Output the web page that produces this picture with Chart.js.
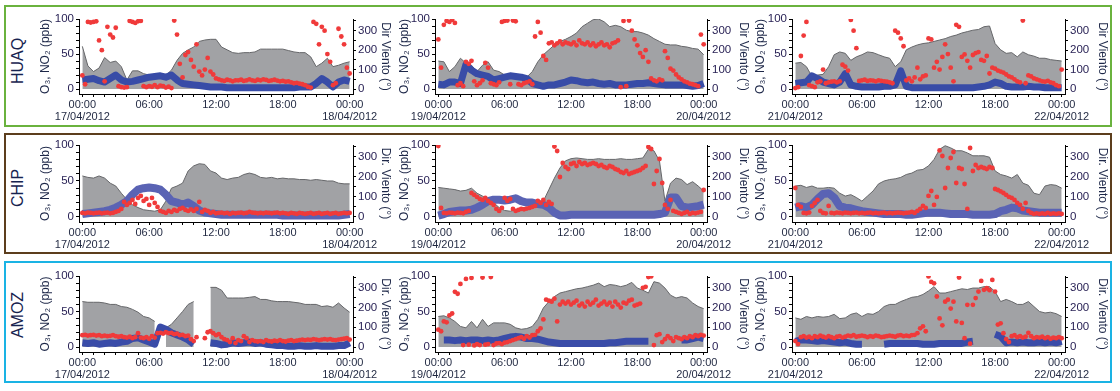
<!DOCTYPE html>
<html>
<head>
<meta charset="utf-8">
<script src="https://cdn.jsdelivr.net/npm/chart.js@4.4.1/dist/chart.umd.min.js"></script>
<style>
  body { margin: 0; background: #fff; width: 1120px; height: 391px; position: relative; overflow: hidden;
         font-family: "Liberation Sans", Arial, sans-serif; }
  .frame { position: absolute; border: 2px solid; box-sizing: border-box; }
  .station { position: absolute; font-size: 16px; color: #17234f; white-space: nowrap;
             transform: translate(-50%, -50%) rotate(-90deg); }
  canvas { position: absolute; }
</style>
</head>
<body>
<script>
// ---- data: O3 and NO2 every 30 min (00:00 .. 24:00), wind direction every 15 min ----
const stations = ["HUAQ", "CHIP", "AMOZ"];
const dayLabels = [["17/04/2012", "18/04/2012"], ["19/04/2012", "20/04/2012"], ["21/04/2012", "22/04/2012"]];
const hourTicks = [0, 6, 12, 18, 24];
const hourText = ["00:00", "06:00", "12:00", "18:00", "00:00"];
const leftLabels = [0, 50, 100];
const rightLabels = [0, 100, 200, 300];
const rightTitles = ["Dir Viento (°)", "Dir. Viento (°)", "Dir. Viento (°)"];

const huaq17O3 = [61, 33, 25, 30, 45, 38, 40, 32, 13, 26, 26, 22, 20, 19, 18, 20,
  27, 41, 51, 56, 60, 68, 70, 71, 71, 60, 56, 52, 51, 52, 52, 53,
  57, 57, 57, 57, 57, 55, 53, 52, 52, 46, 32, 37, 44, 32, 34, 37, 39];
const huaq17NO2 = [13, 14, 15, 12, 10, 15, 20, 13, 10, 11, 13, 15, 17, 18, 19, 17,
  20, 13, 8, 7, 6, 5, 4, 3, 3, 3, 2, 2, 2, 2, 2, 2,
  2, 2, 2, 2, 2, 2, 2, 3, 3, 3, 8, 15, 10, 3, 10, 13, 11];
const huaq17Dir = [70, 25, 345, 342, 345, 348, 250, 200,
  40, 320, 280, 265, 315, 15, 10, 8,
  10, 350, 345, 340, 348, 350, 15, 10,
  15, 12, 20, 10, 18, 15, 8, 12,
  5, 352, 280, 130, 60, 175, 190, 150,
  115, 230, 90, 70, 100, 160, 90, 75,
  55, 50, 45, 42, 48, 45, 40, 45,
  45, 48, 42, 45, 50, 45, 42, 48,
  45, 50, 47, 42, 45, 48, 44, 40,
  42, 38, 40, 35, 30, 32, 28, 25,
  20, 12, 8, 345, 335, 230, 320, 300,
  180, 140, 20, 30, 310, 270, 230, 110,
  80];

const huaq19O3 = [40, 39, 25, 32, 44, 37, 34, 25, 34, 39, 27, 25, 20, 20, 18, 18,
  17, 25, 39, 49, 56, 63, 68, 71, 75, 80, 89, 94, 99, 100, 96, 89,
  91, 89, 84, 82, 82, 80, 77, 72, 68, 64, 63, 63, 61, 60, 58, 57, 49];
const huaq19NO2 = [7, 6, 10, 10, 8, 35, 27, 22, 20, 18, 13, 15, 17, 19, 18, 17,
  15, 8, 6, 4, 6, 6, 8, 10, 13, 12, 10, 9, 10, 8, 7, 8,
  6, 6, 6, 7, 8, 8, 9, 8, 7, 6, 6, 6, 6, 5, 4, 5, 8];
const huaq19Dir = [255, 110, 330, 350, 345, 355, 340, 20,
  30, 15, 140, 130, 145, 40, 20, 30,
  45, 135, 110, 30, 25, 20, 35, 345,
  350, 352, 25, 352, 348, 25, 20, 30,
  35, 40, 25, 270, 345, 290, 170, 150,
  235, 240, 225, 235, 245, 230, 240, 235,
  230, 240, 225, 250, 235, 230, 240, 225,
  235, 220, 230, 240, 225, 230, 215, 235,
  240, 250, 10, 350, 15, 352, 300, 255,
  225, 185, 165, 200, 140, 55, 45, 40,
  50, 45, 195, 160, 105, 95, 75, 60,
  50, 40, 35, 28, 25, 20, 15, 280,
  230];

const huaq21O3 = [37, 38, 32, 18, 20, 21, 32, 49, 53, 51, 41, 46, 49, 53, 52, 49,
  46, 44, 32, 39, 56, 60, 63, 65, 66, 68, 70, 72, 75, 77, 80, 82,
  84, 85, 89, 90, 65, 56, 51, 52, 46, 53, 49, 47, 44, 44, 42, 41, 40];
const huaq21NO2 = [8, 9, 10, 19, 15, 10, 8, 6, 10, 22, 6, 4, 3, 3, 3, 3,
  4, 4, 6, 26, 4, 2, 2, 2, 2, 2, 2, 2, 2, 2, 2, 2,
  2, 3, 4, 6, 10, 8, 4, 3, 3, 3, 4, 3, 3, 2, 2, 2, 2];
const huaq21Dir = [5, 10, 170, 275, 345, 20, 15, 10,
  35, 40, 100, 30, 35, 38, 40, 35,
  40, 125, 115, 95, 355, 300, 210, 42,
  45, 48, 42, 45, 44, 40, 45, 42,
  40, 38, 35, 30, 300, 290, 260, 220,
  45, 55, 40, 60, 110, 50, 65, 70,
  260, 255, 110, 140, 100, 165, 230, 180,
  110, 40, 330, 320, 165, 178, 145, 110,
  175, 185, 190, 150, 145, 170, 80, 110,
  105, 95, 90, 85, 75, 65, 60, 50,
  40, 35, 352, 30, 70, 65, 55, 50,
  45, 40, 38, 42, 35, 30, 20, 15,
  100];

const chip17O3 = [57, 55, 54, 57, 54, 47, 43, 33, 24, 17, 13, 10, 9, 8, 10, 22,
  40, 43, 47, 64, 71, 74, 73, 64, 61, 54, 52, 54, 55, 59, 61, 59,
  55, 54, 55, 53, 54, 53, 53, 52, 52, 51, 52, 51, 50, 50, 47, 46, 46];
const chip17NO2 = [4, 5, 6, 7, 8, 10, 13, 17, 22, 31, 38, 40, 41, 40, 38, 31,
  22, 20, 17, 20, 15, 9, 6, 5, 4, 3, 3, 3, 3, 3, 3, 3,
  3, 3, 3, 3, 2, 2, 2, 2, 2, 2, 2, 2, 2, 2, 2, 3, 4];
const chip17Dir = [20, 18, 22, 20, 18, 20, 22, 18,
  20, 22, 18, 20, 25, 30, 40, 75,
  60, 70, 85, 65, 95, 105, 80, 90,
  60, 95, 70, 50, 30, 25, 20, 30,
  25, 35, 30, 40, 45, 35, 30, 38,
  30, 40, 75, 25, 35, 30, 20, 25,
  18, 20, 22, 18, 20, 15, 20, 18,
  20, 22, 18, 20, 25, 22, 20, 18,
  20, 18, 22, 20, 18, 20, 22, 18,
  20, 18, 15, 20, 18, 15, 20, 18,
  15, 18, 20, 15, 18, 20, 15, 18,
  20, 15, 18, 20, 15, 18, 20, 18,
  20];

const chip19O3 = [41, 40, 39, 38, 36, 37, 40, 33, 29, 24, 20, 13, 9, 8, 10, 13,
  13, 15, 17, 22, 38, 54, 68, 78, 81, 82, 81, 80, 80, 81, 80, 80,
  80, 81, 80, 80, 81, 82, 94, 92, 78, 22, 47, 54, 52, 45, 49, 43, 36];
const chip19NO2 = [2, 4, 7, 8, 9, 9, 10, 13, 17, 22, 24, 24, 23, 24, 26, 22,
  20, 20, 18, 17, 13, 6, 2, 2, 3, 3, 3, 3, 3, 3, 3, 3,
  3, 3, 3, 3, 3, 3, 3, 3, 4, 6, 27, 27, 15, 13, 14, 15, 17];
const chip19Dir = [355, 45, 20, 18, 22, 20, 18, 22,
  20, 18, 25, 30, 120, 110, 100, 90,
  85, 95, 80, 70, 60, 40, 30, 45,
  95, 80, 90, 40, 30, 35, 40, 38,
  42, 45, 50, 55, 80, 70, 85, 60,
  75, 65, 352, 330, 200, 270, 250, 240,
  265, 270, 255, 275, 265, 270, 260, 265,
  270, 265, 255, 260, 250, 245, 255, 250,
  240, 235, 225, 220, 230, 215, 220, 225,
  230, 235, 245, 255, 350, 340, 165, 230,
  290, 170, 60, 40, 85, 30, 25, 20,
  15, 20, 25, 15, 20, 18, 22, 25,
  135];

const chip21O3 = [43, 44, 41, 43, 40, 40, 41, 40, 33, 29, 31, 27, 22, 29, 36, 46,
  50, 52, 53, 55, 59, 61, 65, 66, 71, 80, 94, 99, 96, 92, 92, 89,
  85, 85, 85, 83, 64, 59, 57, 54, 59, 47, 44, 33, 31, 43, 45, 44, 40];
const chip21NO2 = [13, 15, 13, 17, 25, 32, 33, 27, 15, 13, 12, 10, 8, 7, 6, 5,
  4, 4, 4, 4, 3, 3, 4, 5, 6, 6, 6, 5, 4, 4, 4, 4,
  3, 3, 3, 3, 4, 8, 10, 13, 12, 9, 8, 7, 6, 6, 6, 6, 6];
const chip21Dir = [145, 60, 50, 20, 18, 22, 55, 70,
  85, 30, 20, 18, 55, 20, 18, 22,
  20, 18, 22, 20, 18, 20, 22, 18,
  20, 18, 20, 22, 18, 20, 18, 20,
  22, 18, 20, 18, 20, 22, 20, 18,
  20, 22, 25, 20, 30, 40, 55, 45,
  105, 130, 60, 100, 333, 305, 145, 245,
  295, 325, 170, 245, 240, 165, 40, 345,
  230, 260, 245, 250, 245, 240, 250, 245,
  140, 135, 128, 120, 110, 100, 95, 85,
  70, 60, 40, 70, 30, 20, 15, 18,
  15, 18, 15, 20, 15, 18, 15, 18,
  15];

const amoz17O3 = [64, 63, 63, 63, 62, 60, 60, 57, 56, 53, 49, 43, 41, 36, null, 27,
  32, 41, 50, 60, 64, null, null, 84, 84, 80, 69, 69, 69, 69, 70, 71,
  67, 67, 65, 64, 64, 64, 63, 62, 60, 60, 60, 57, 58, 56, 62, 55, 49];
const amoz17NO2 = [6, 5, 6, 4, 5, 6, 5, 7, 8, 12, 13, 10, 7, 4, 28, 25,
  20, 17, 14, 10, 4, null, null, 6, 5, 3, 4, 6, 5, 6, 7, 5,
  6, 4, 3, 2, 2, 1, 1, 2, 1, 1, 2, 1, 1, 1, 2, 2, 6];
const amoz17Dir = [60, 62, 58, 60, 62, 58, 60, 55,
  58, 55, 57, 60, 55, 52, 55, 50,
  48, 52, 45, 50, 70, 48, 45, 50,
  42, 55, 48, 70, 72, 68, 75, 70,
  72, 65, 68, 60, 62, 55, 58, 40,
  30, 50, null, null, 45, 75, 80, 70,
  60, 65, 50, 40, 35, 25, 45, 20,
  35, 30, 55, 45, 25, 35, 30, 28,
  30, 25, 35, 30, 28, 32, 30, 35,
  30, 28, 32, 35, 30, 32, 35, 38,
  35, 38, 36, 40, 38, 35, 38, 40,
  38, 40, 36, 35, 38, 40, 42, 45,
  38];

const amoz19O3 = [43, 44, 41, 36, 29, 27, 36, 27, 39, 29, 34, 34, 34, 32, 27, 25,
  26, 29, 39, 55, 64, 71, 76, 78, 80, 82, 83, 85, 87, 90, 85, 88,
  87, 85, 87, 91, 83, 80, 76, 92, 90, 83, 73, 69, 71, 69, 62, 57, 54];
const amoz19NO2 = [null, 10, 10, 9, 10, 9, 10, 10, 9, 10, 9, 10, 12, 14, 15, 14,
  12, 12, 11, 9, 7, 6, 5, 5, 5, 5, 5, 5, 5, 5, 5, 6,
  6, 7, 8, 8, 8, 8, 8, null, null, null, null, null, 10, 10, 12, 14, 12];
const amoz19Dir = [88, 80, 130, 125, 160, 170, 280, 270,
  320, 10, 345, 12, 350, 8, 15, 10,
  352, 12, 15, 355, 10, 18, 20, 15,
  22, 25, 30, 35, 40, 45, 50, 42,
  55, 48, 60, 62, 80, 95, 140, 240,
  235, 230, 245, 130, 215, 230, 220, 230,
  215, 225, 235, 210, 220, 205, 230, 215,
  225, 240, 210, 220, 230, 215, 225, 205,
  230, 215, 200, 225, 220, 235, 240, 210,
  215, 220, 300, 305, 355, 358, 10, 60,
  65, 25, 40, 55, 45, 30, 50, 45,
  40, 50, 45, 55, 50, 60, 55, 62,
  58];

const amoz21O3 = [41, 39, 43, 41, 43, 42, 43, 46, 40, 41, 46, 48, 43, 47, 46, 50,
  57, 60, 60, 64, 67, 70, 71, 74, 79, 85, 76, 76, 78, 80, 82, 81,
  83, 83, 85, 85, 78, 64, 67, 64, 60, 60, 64, 57, 50, 48, 49, 47, 43];
const amoz21NO2 = [8, 10, 10, 9, 8, 9, 8, 7, 6, 7, 5, 4, 4, null, null, null,
  4, 5, 5, 5, 5, 5, 5, 4, 4, 4, 5, 5, 5, 5, 5, 7,
  8, null, null, null, 18, 15, 6, 7, 6, 7, 6, 6, 7, 6, 7, 6, 8];
const amoz21Dir = [30, 15, 50, 55, 48, 52, 45, 55,
  50, 58, 52, 48, 55, 50, 45, 52,
  55, 48, 52, 58, 55, 60, 52, 55,
  58, 55, 50, 55, 52, 58, 55, 50,
  52, 55, 58, 55, 52, 58, 60, 55,
  58, 55, 60, 62, 70, 95, 105, 80,
  358, 330, 323, 256, 145, 110, 230, 240,
  195, 230, 130, 352, 122, 45, 214, 17,
  214, 248, 281, 335, 290, 298, 288, 340,
  281, 114, 120, 70, 40, 25, 55, 60,
  50, 55, 48, 52, 72, 55, 45, 50,
  48, 52, 45, 50, 42, 48, 45, 50,
  45];

const panelData = [
  [huaq17O3, huaq17NO2, huaq17Dir], [huaq19O3, huaq19NO2, huaq19Dir], [huaq21O3, huaq21NO2, huaq21Dir],
  [chip17O3, chip17NO2, chip17Dir], [chip19O3, chip19NO2, chip19Dir], [chip21O3, chip21NO2, chip21Dir],
  [amoz17O3, amoz17NO2, amoz17Dir], [amoz19O3, amoz19NO2, amoz19Dir], [amoz21O3, amoz21NO2, amoz21Dir],
];

// ---- layout / style ----
const FONT = '"Liberation Sans", Arial, sans-serif';
const frameColors = ["#6ab23e", "#5c3e1d", "#1ab3e4"];
const frameBoxes = [[4, 5, 1108, 122], [4, 133, 1108, 121], [4, 261, 1108, 122]];
const stationCenters = [61, 188, 315];
const blueColors = ["#384ca7", "#5a63b4", "#3a4ca8"];
const blueWidths = [7, 8, 7];
const rowPlot = [[19, 94], [145, 222], [276, 352]];
const colPlot = [[79, 353], [435, 707], [792, 1065]];
const leftTitleDist = [33, 30, 31];
const rightTitleDist = [32, 36, 37];
const LEFT_W = 56, RIGHT_W = 46, PAD_TOP = 10, X_H = 34;

Chart.defaults.font.family = FONT;

function series(values, step) {
  return values.map((v, i) => ({ x: i * step, y: v }));
}

frameBoxes.forEach((b, r) => {
  const d = document.createElement("div");
  d.className = "frame";
  Object.assign(d.style, { left: b[0] + "px", top: b[1] + "px", width: b[2] + "px", height: b[3] + "px", borderColor: frameColors[r] });
  document.body.appendChild(d);

  const s = document.createElement("div");
  s.className = "station";
  s.textContent = stations[r];
  Object.assign(s.style, { left: "18px", top: stationCenters[r] + "px" });
  document.body.appendChild(s);
});

panelData.forEach((p, k) => {
  const r = Math.floor(k / 3), c = k % 3;
  const [o3, no2, dir] = p;
  const [pTop, pBottom] = rowPlot[r];
  const [pLeft, pRight] = colPlot[c];

  const canvas = document.createElement("canvas");
  const w = LEFT_W + (pRight - pLeft) + RIGHT_W;
  const h = PAD_TOP + (pBottom - pTop) + X_H;
  canvas.width = w;
  canvas.height = h;
  Object.assign(canvas.style, { left: (pLeft - LEFT_W) + "px", top: (pTop - PAD_TOP) + "px", width: w + "px", height: h + "px" });
  document.body.appendChild(canvas);

  const tickColor = "#000";
  new Chart(canvas, {
    type: "line",
    data: {
      datasets: [
        {
          data: series(dir, 0.25), yAxisID: "y2", showLine: false, order: 0,
          pointRadius: 2.4, pointBorderWidth: 0, pointBackgroundColor: "#f03a3a", pointBorderColor: "#f03a3a",
        },
        {
          data: series(no2, 0.5), yAxisID: "y", order: 1, pointRadius: 0,
          borderColor: blueColors[r], borderWidth: blueWidths[r], borderJoinStyle: "round", borderCapStyle: "butt",
        },
        {
          data: series(o3, 0.5), yAxisID: "y", order: 2, pointRadius: 0, fill: "origin",
          borderColor: "#66676a", borderWidth: 1, backgroundColor: "#a1a2a5",
        },
      ],
    },
    options: {
      responsive: false,
      animation: false,
      events: [],
      layout: { autoPadding: false, padding: { top: PAD_TOP, left: 0, right: 0, bottom: 0 } },
      plugins: { legend: { display: false }, tooltip: { enabled: false } },
      scales: {
        x: {
          type: "linear", position: "bottom", min: -0.3, max: 24.3,
          afterBuildTicks: (s) => { s.ticks = Array.from({ length: 25 }, (_, i) => ({ value: i })); },
          afterFit: (s) => { s.height = X_H; },
          grid: { drawOnChartArea: false, drawTicks: true, tickLength: 3, tickColor: tickColor },
          border: { color: "#000", width: 1 },
          ticks: {
            autoSkip: false, maxRotation: 0, minRotation: 0, padding: 2, color: "#1f2740",
            font: { size: 11, lineHeight: 1.07 },
            callback: (v) => {
              const i = hourTicks.indexOf(v);
              if (i < 0) return "";
              if (i === 0) return [hourText[i], dayLabels[c][0]];
              if (i === hourTicks.length - 1) return [hourText[i], dayLabels[c][1]];
              return hourText[i];
            },
          },
        },
        y: {
          position: "left", min: -7, max: 100,
          afterBuildTicks: (s) => { s.ticks = Array.from({ length: 11 }, (_, i) => ({ value: i * 10 })); },
          afterFit: (s) => { s.width = LEFT_W; },
          grid: { drawOnChartArea: false, drawTicks: true, tickLength: 3, tickColor: tickColor },
          border: { color: "#000", width: 1 },
          ticks: {
            autoSkip: false, padding: 2, color: "#2a2356", font: { size: 11.5 },
            callback: (v) => (leftLabels.includes(v) ? String(v) : ""),
          },
          title: {
            display: true, text: "O₃, NO₂ (ppb)", color: "#1d2748", font: { size: 12 },
            padding: { top: LEFT_W - leftTitleDist[c] - 7.2, bottom: 0 },
          },
        },
        y2: {
          position: "right", min: -25.2, max: 360,
          afterBuildTicks: (s) => { s.ticks = Array.from({ length: 8 }, (_, i) => ({ value: i * 50 })); },
          afterFit: (s) => { s.width = RIGHT_W; },
          grid: { drawOnChartArea: false, drawTicks: true, tickLength: 3, tickColor: tickColor },
          border: { color: "#000", width: 1 },
          ticks: {
            autoSkip: false, padding: 2, color: "#2a2356", font: { size: 11.5 },
            callback: (v) => (rightLabels.includes(v) ? String(v) : ""),
          },
          title: {
            display: true, text: rightTitles[r], color: "#1d2748", font: { size: 12 },
            padding: { top: RIGHT_W - rightTitleDist[c] - 7.2, bottom: 0 },
          },
        },
      },
    },
  });
});
</script>
</body>
</html>
